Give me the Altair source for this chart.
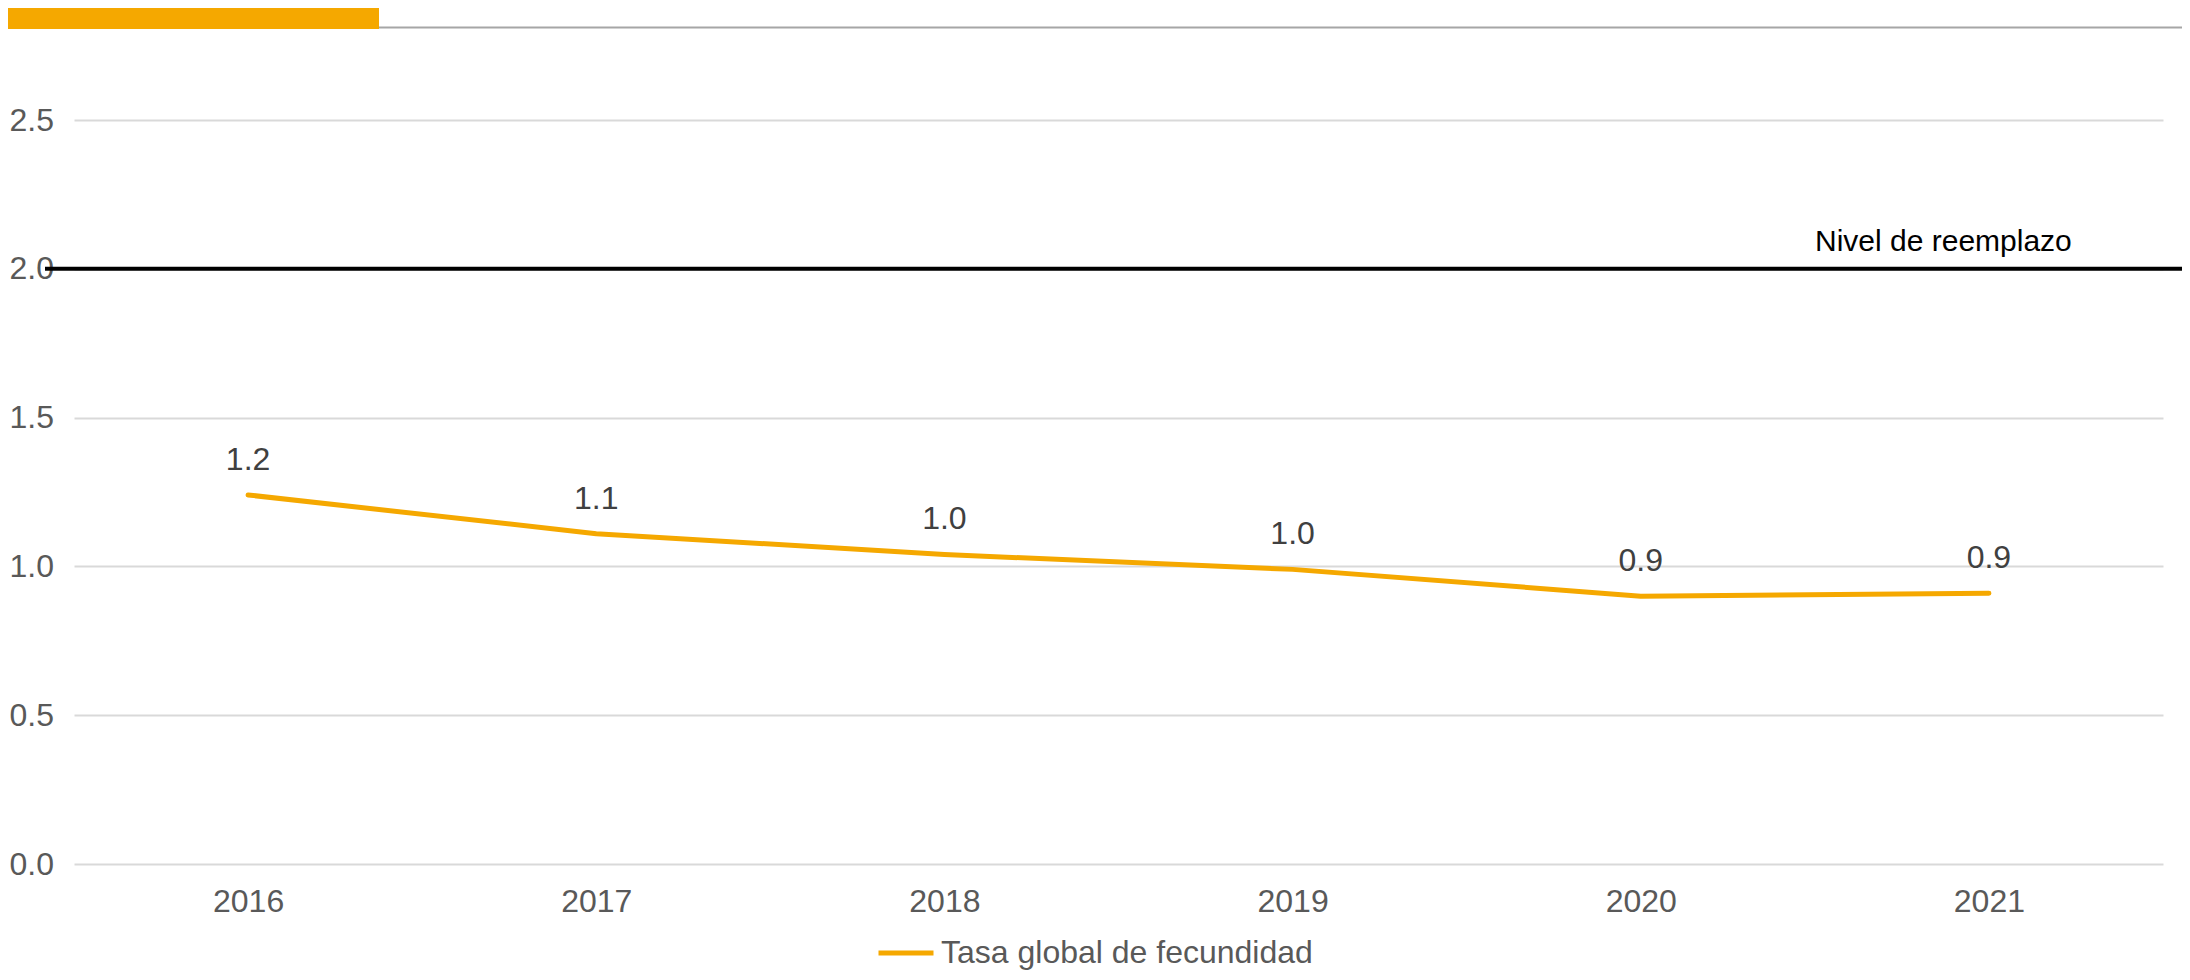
import altair as alt
import pandas as pd

years = ["2016", "2017", "2018", "2019", "2020", "2021"]
tasa = [1.24, 1.11, 1.04, 0.99, 0.90, 0.91]
serie_name = "Tasa global de fecundidad"
reemplazo_value = 2.0
reemplazo_label = "Nivel de reemplazo"
y_ticks = [0.0, 0.5, 1.0, 1.5, 2.0, 2.5]

ORANGE = "#F5A800"
FONT = "Liberation Sans"
W, H = 2089, 744

df = pd.DataFrame({"year": years, "value": tasa, "serie": [serie_name] * len(years)})
ref = pd.DataFrame({"value": [reemplazo_value], "label": [reemplazo_label]})
deco = pd.DataFrame({"k": [0]})

x_enc = alt.X("year:O", scale=alt.Scale(type="point", padding=0.5),
              axis=alt.Axis(title=None, labelAngle=0, ticks=False, tickSize=0, domain=False,
                            grid=False, labelFontSize=32, labelColor="#595959", labelFont=FONT,
                            labelPadding=37, labelBaseline="middle"))
y_enc = alt.Y("value:Q", scale=alt.Scale(domain=[0, 2.5], nice=False, zero=True),
              axis=alt.Axis(title=None, values=y_ticks, format=".1f", ticks=False, tickSize=0,
                            domain=False, grid=True, gridColor="#d9d9d9", gridWidth=2,
                            labelFontSize=32, labelColor="#595959", labelFont=FONT,
                            labelAlign="left", labelPadding=65, labelBaseline="middle"))

line = alt.Chart(df).mark_line(strokeWidth=5, strokeCap="round", strokeJoin="round").encode(
    x=x_enc, y=y_enc,
    color=alt.Color("serie:N", scale=alt.Scale(domain=[serie_name], range=[ORANGE]),
                    legend=alt.Legend(title=None, orient="none", legendX=802, legendY=803,
                                      symbolType="stroke", symbolSize=3025, symbolStrokeWidth=5,
                                      labelFontSize=32, labelColor="#595959", labelFont=FONT,
                                      labelOffset=5, padding=0, labelLimit=0)),
)

labels = alt.Chart(df).mark_text(fontSize=32, color="#404040", font=FONT, dy=-35,
                                 baseline="middle", align="center").encode(
    x="year:O", y="value:Q", text=alt.Text("value:Q", format=".1f"))

ref_rule = alt.Chart(ref).mark_rule(color="black", strokeWidth=4).encode(
    y="value:Q", x=alt.value(-29), x2=alt.value(2116))
ref_text = alt.Chart(ref).mark_text(fontSize=30, color="black", font=FONT, align="left",
                                    baseline="alphabetic", dy=-18).encode(
    y="value:Q", x=alt.value(1741), text="label:N")

top_bar = alt.Chart(deco).mark_rect(color=ORANGE).encode(
    x=alt.value(-66), x2=alt.value(305), y=alt.value(-112), y2=alt.value(-91))
top_line = alt.Chart(deco).mark_rule(color="#a6a6a6", strokeWidth=2).encode(
    x=alt.value(305), x2=alt.value(2116), y=alt.value(-92.5))

chart = alt.layer(ref_rule, line, labels, ref_text, top_bar, top_line).properties(
    width=W, height=H,
    autosize=alt.AutoSizeParams(type="none"),
    padding={"left": 66, "top": 112, "right": 19, "bottom": 108},
    background="white",
).configure_view(stroke=None)

chart.save("out.html", embed_options={"renderer": "svg", "actions": False})
